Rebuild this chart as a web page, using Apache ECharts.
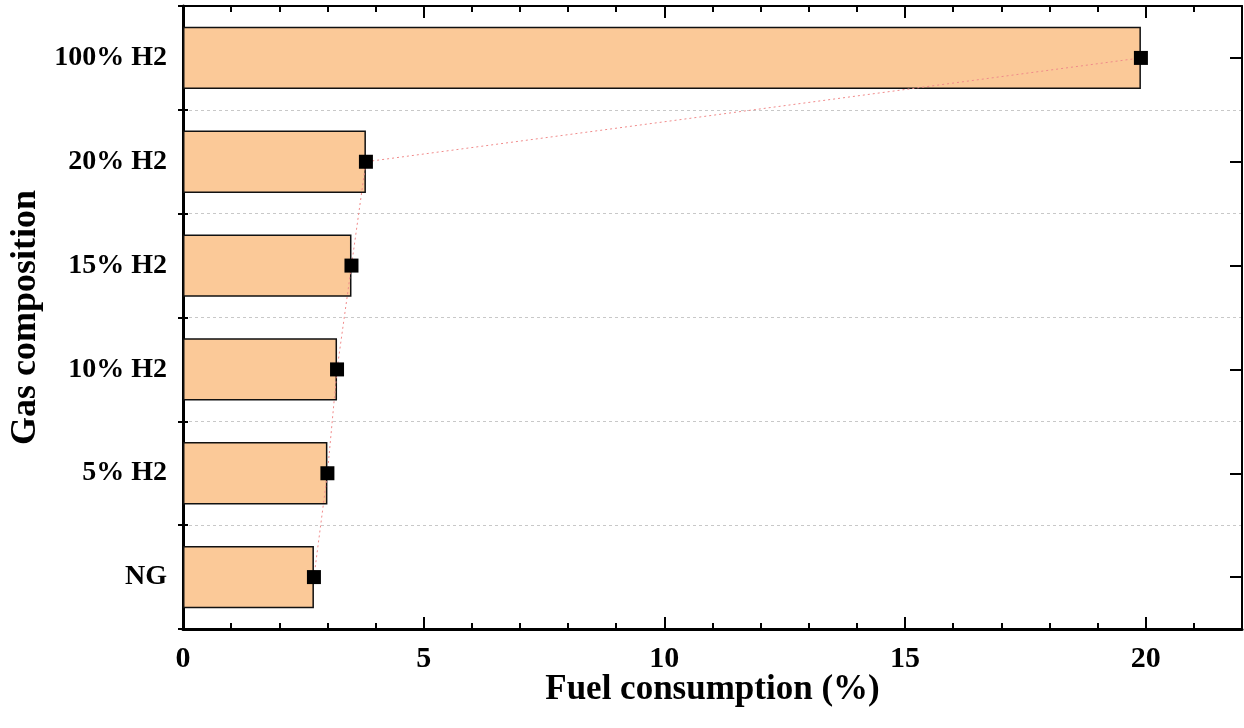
<!DOCTYPE html>
<html>
<head>
<meta charset="utf-8">
<style>
  html, body { margin: 0; padding: 0; background: #fff; }
  #chart { width: 1244px; height: 728px; }
</style>
<script src="https://cdn.jsdelivr.net/npm/echarts@6/dist/echarts.min.js"></script>
</head>
<body>
<div id="chart"></div>
<script>
// Gas compositions, bottom to top
const categories = ['NG', '5% H2', '10% H2', '15% H2', '20% H2', '100% H2'];
// Fuel consumption increase (%)
const fuelConsumption = [2.72, 3.0, 3.2, 3.5, 3.8, 19.9];
const xTicks = [0, 5, 10, 15, 20];

const FONT = '"Liberation Serif", "Times New Roman", serif';
const chart = echarts.init(document.getElementById('chart'));

const baseX = {
  type: 'value', min: 0, max: 22, interval: 5,
  splitLine: { show: false },
  axisTick: { show: true, inside: true, length: 12, lineStyle: { color: '#000', width: 2 } },
  minorTick: { show: true, splitNumber: 5, length: 6, lineStyle: { color: '#000', width: 2 } },
  minorSplitLine: { show: false }
};

const baseY = {
  type: 'category', data: categories,
  axisLabel: { show: false },
  splitLine: { show: false }
};

chart.setOption({
  animation: false,
  grid: { left: 183, right: 2, top: 6, bottom: 99, containLabel: false, outerBoundsMode: 'none' },
  xAxis: [
    Object.assign({}, baseX, {
      position: 'bottom',
      name: 'Fuel consumption (%)', nameLocation: 'middle', nameGap: 43, nameMoveOverlap: false,
      nameTextStyle: { fontFamily: FONT, fontWeight: 'bold', fontSize: 35, color: '#000', verticalAlign: 'top' },
      axisLine: { show: true, onZero: false, lineStyle: { color: '#000', width: 3 } },
      axisLabel: {
        show: true, margin: 15, fontFamily: FONT, fontWeight: 'bold', fontSize: 30, color: '#000',
        formatter: v => (xTicks.indexOf(v) >= 0 ? String(v) : '')
      }
    }),
    Object.assign({}, baseX, {
      position: 'top',
      axisLine: { show: true, onZero: false, lineStyle: { color: '#000', width: 2 } },
      axisLabel: { show: false }
    })
  ],
  yAxis: [
    // left axis: labels with ticks at category centres, dashed grid at band edges
    Object.assign({}, baseY, {
      position: 'left',
      name: 'Gas composition', nameLocation: 'middle', nameGap: 134, nameRotate: 90,
      nameTextStyle: { fontFamily: FONT, fontWeight: 'bold', fontSize: 36, color: '#000' },
      axisLine: { show: true, onZero: false, lineStyle: { color: '#000', width: 3 } },
      axisTick: { show: true, inside: true, alignWithLabel: true, length: 12, lineStyle: { color: '#000', width: 2 } },
      axisLabel: { show: true, margin: 16, fontFamily: FONT, fontWeight: 'bold', fontSize: 28, color: '#000' },
      splitLine: { show: true, lineStyle: { color: '#c8c8c8', width: 1, type: [3, 3] } }
    }),
    // left axis: short ticks at band edges
    Object.assign({}, baseY, {
      position: 'left',
      axisLine: { show: false },
      axisTick: { show: true, inside: true, length: 5, lineStyle: { color: '#000', width: 2 } }
    }),
    // right axis: centre ticks
    Object.assign({}, baseY, {
      position: 'right',
      axisLine: { show: true, onZero: false, lineStyle: { color: '#000', width: 2 } },
      axisTick: { show: true, inside: true, alignWithLabel: true, length: 12, lineStyle: { color: '#000', width: 2 } }
    }),
    // right axis: short ticks at band edges
    Object.assign({}, baseY, {
      position: 'right',
      axisLine: { show: false },
      axisTick: { show: true, inside: true, length: 5, lineStyle: { color: '#000', width: 2 } }
    })
  ],
  series: [
    {
      type: 'bar',
      xAxisIndex: 0, yAxisIndex: 0,
      data: fuelConsumption,
      barWidth: '60%',
      itemStyle: { color: '#fbc998', borderColor: '#111', borderWidth: 1.5 }
    },
    {
      type: 'line',
      xAxisIndex: 0, yAxisIndex: 0,
      data: fuelConsumption,
      symbol: 'rect', symbolSize: 14,
      itemStyle: { color: '#000' },
      lineStyle: { color: '#f08a8a', width: 1, type: [2, 3] },
      z: 5
    }
  ]
});
</script>
</body>
</html>
